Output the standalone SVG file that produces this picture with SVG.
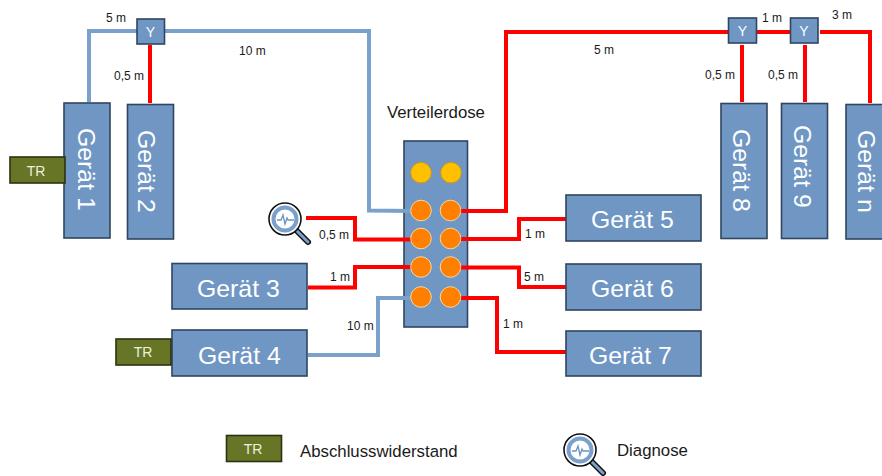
<svg xmlns="http://www.w3.org/2000/svg" width="882" height="476" viewBox="0 0 882 476">
<style>
.dev{fill:#7096c4;stroke:#2f4560;stroke-width:1.6}
.big{font:24.800px "Liberation Sans",Arial,sans-serif;fill:#fff}
.lab{font:12px "Liberation Sans",Arial,sans-serif;fill:#1a1a1a}
.leg{font:16.800px "Liberation Sans",Arial,sans-serif;fill:#1a1a1a}
.y{font:14px "Liberation Sans",Arial,sans-serif;fill:#fff;text-anchor:middle}
.tr{fill:#677527;stroke:#2c3210;stroke-width:1.6}
.trt{font:14px "Liberation Sans",Arial,sans-serif;fill:#edf0dc;text-anchor:middle}
.r{fill:none;stroke:#ff0000;stroke-width:4}
.b{fill:none;stroke:#7ba0cc;stroke-width:4}
.o{fill:#ff8000;stroke:#f2d9a6;stroke-width:1}
.g{fill:#ffc000;stroke:#d49a10;stroke-width:1}
</style>
<defs>
<g id="lens">
<line x1="11" y1="11" x2="23" y2="23" stroke="#111" stroke-width="6" stroke-linecap="round"/>
<line x1="11" y1="11" x2="23" y2="23" stroke="#7ba0cc" stroke-width="3" stroke-linecap="round"/>
<circle r="16" fill="#fff" stroke="#111" stroke-width="1.6"/>
<circle r="11.5" fill="#fff" stroke="#7ba0cc" stroke-width="4"/>
<path d="M-8,1H-4L-2,-4L0,5L2,-1L3,1H9" fill="none" stroke="#6c93c2" stroke-width="1.3"/>
</g>
</defs>
<g id="verteilerdose"><rect class="dev" x="404" y="141" width="63.500" height="186"/></g>
<g id="connectors">
<path class="b" d="M89,102V31H137"/>
<path class="b" d="M165,31H369V210.500L412,211"/>
<path class="r" d="M150,45V103"/>
<path class="r" d="M460,211H506V32H729"/>
<path class="r" d="M756,32H791"/>
<path class="r" d="M820,32H870V103"/>
<path class="r" d="M742,45V102"/>
<path class="r" d="M805,45V102"/>
<path class="r" d="M306,218H355V239.500H412"/>
<path class="r" d="M308,287.500H355V267H412"/>
<path class="b" d="M308,355H378V298H412"/>
<path class="r" d="M460,239H519V219H566"/>
<path class="r" d="M460,267.500H519V287H566"/>
<path class="r" d="M460,298H497V352H566"/>
</g>
<g id="anschluesse">
<circle class="g" cx="421" cy="172.700" r="10.300"/><circle class="g" cx="451" cy="172.700" r="10.300"/>
<circle class="o" cx="421" cy="210.500" r="10.300"/><circle class="o" cx="450.500" cy="210.500" r="10.300"/>
<circle class="o" cx="421" cy="238.500" r="10.300"/><circle class="o" cx="450.500" cy="238.500" r="10.300"/>
<circle class="o" cx="421" cy="267" r="10.300"/><circle class="o" cx="450.500" cy="267" r="10.300"/>
<circle class="o" cx="421" cy="297" r="10.300"/><circle class="o" cx="450.500" cy="297" r="10.300"/>
</g>
<g id="y1"><rect class="dev" x="137" y="19" width="27.500" height="25"/><text class="y" x="150.500" y="37">Y</text></g>
<g id="y2"><rect class="dev" x="728.500" y="18" width="28" height="25"/><text class="y" x="742.500" y="36">Y</text></g>
<g id="y3"><rect class="dev" x="790.500" y="18" width="27.500" height="25"/><text class="y" x="804" y="36">Y</text></g>
<g id="geraet1"><rect class="dev" x="64" y="103" width="46" height="135"/><text class="big" transform="translate(77.500,128) rotate(90)">Gerät 1</text></g>
<g id="geraet2"><rect class="dev" x="127.500" y="104.500" width="46" height="134.500"/><text class="big" transform="translate(138,130) rotate(90)">Gerät 2</text></g>
<g id="geraet8"><rect class="dev" x="721" y="103.500" width="46" height="135"/><text class="big" transform="translate(733,129) rotate(90)">Gerät 8</text></g>
<g id="geraet9"><rect class="dev" x="781.500" y="103.500" width="46" height="135"/><text class="big" transform="translate(794,125) rotate(90)">Gerät 9</text></g>
<g id="geraetn"><rect class="dev" x="846" y="104.500" width="46" height="134.500"/><text class="big" transform="translate(857.500,130) rotate(90)">Gerät n</text></g>
<g id="geraet3"><rect class="dev" x="172" y="263.500" width="135" height="45.500"/><text class="big" x="197" y="297">Gerät 3</text></g>
<g id="geraet4"><rect class="dev" x="172" y="330" width="135" height="46"/><text class="big" x="198" y="364">Gerät 4</text></g>
<g id="geraet5"><rect class="dev" x="566" y="195" width="135" height="46"/><text class="big" x="591" y="228">Gerät 5</text></g>
<g id="geraet6"><rect class="dev" x="566" y="264" width="135" height="46"/><text class="big" x="591" y="297">Gerät 6</text></g>
<g id="geraet7"><rect class="dev" x="566" y="331" width="135" height="45"/><text class="big" x="589" y="364">Gerät 7</text></g>
<g id="tr1"><rect class="tr" x="10" y="157" width="55" height="26"/><text class="trt" x="36" y="176">TR</text></g>
<g id="tr2"><rect class="tr" x="116" y="339" width="55" height="26"/><text class="trt" x="143" y="357">TR</text></g>
<g id="diagnose1"><use href="#lens" x="285" y="219"/></g>
<g id="legend-tr"><rect class="tr" x="226.500" y="435.500" width="55" height="26"/><text class="trt" x="253" y="454">TR</text></g>
<g id="diagnose2"><use href="#lens" x="580" y="450"/></g>
<g id="labels">
<text class="leg" x="387" y="118">Verteilerdose</text>
<text class="leg" x="300" y="457">Abschlusswiderstand</text>
<text class="leg" x="617" y="456">Diagnose</text>
<text class="lab" x="106" y="22">5 m</text>
<text class="lab" x="239" y="55">10 m</text>
<text class="lab" x="114" y="80">0,5 m</text>
<text class="lab" x="594" y="54">5 m</text>
<text class="lab" x="762" y="22">1 m</text>
<text class="lab" x="832" y="19">3 m</text>
<text class="lab" x="705" y="79">0,5 m</text>
<text class="lab" x="768" y="79">0,5 m</text>
<text class="lab" x="319" y="239">0,5 m</text>
<text class="lab" x="330" y="281">1 m</text>
<text class="lab" x="347" y="330">10 m</text>
<text class="lab" x="525" y="238">1 m</text>
<text class="lab" x="524" y="281">5 m</text>
<text class="lab" x="503" y="328">1 m</text>
</g>
</svg>
